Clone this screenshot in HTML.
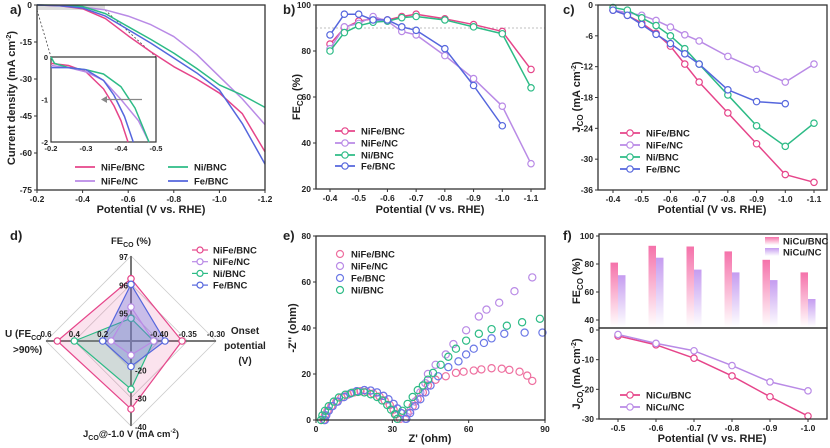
<!DOCTYPE html>
<html><head><meta charset="utf-8"><style>
html,body{margin:0;padding:0;background:#fff;}
svg{display:block;font-family:"Liberation Sans",Arial,sans-serif;}
text{font-weight:bold;fill:#222;}
</style></head><body>
<svg id="fig" width="830" height="448" viewBox="0 0 830 448" xmlns="http://www.w3.org/2000/svg">
<defs>
<linearGradient id="gPink" x1="0" y1="0" x2="0" y2="1"><stop offset="0" stop-color="#f572aa"/><stop offset="1" stop-color="#fff"/></linearGradient>
<linearGradient id="gPurp" x1="0" y1="0" x2="0" y2="1"><stop offset="0" stop-color="#c59cf0"/><stop offset="1" stop-color="#fff"/></linearGradient>
</defs>
</svg>
<script>
// ---------- DATA ----------
const colPink="#e6458a", colPurp="#b98ae6", colGreen="#2dbb86", colBlue="#5566dd";
// panel a (LSV)
const aX=[-0.2,-0.3,-0.4,-0.5,-0.6,-0.7,-0.8,-0.9,-1.0,-1.1,-1.2];
const aNiFeBNC=[0,-0.3,-1.5,-5.5,-12.5,-19,-25,-30,-35.7,-44,-59.5];
const aNiFeNC=[0,-0.2,-0.8,-2,-4.5,-8,-12.8,-20,-29,-38,-48.5];
const aNiBNC=[0,-0.1,-0.6,-3.5,-8.8,-14,-19.5,-25.7,-32.4,-36.5,-41.5];
const aFeBNC=[0,-0.3,-1.2,-4.5,-10,-15.5,-21.5,-27.5,-34.5,-48,-64.5];
const insX1=[-0.2,-0.25,-0.3,-0.35,-0.38,-0.4,-0.42];
const insNiFeBNC=[-0.15,-0.2,-0.35,-0.75,-1.15,-1.5,-2];
const insX2=[-0.2,-0.25,-0.3,-0.35,-0.4,-0.45,-0.48];
const insNiFeNC=[-0.2,-0.25,-0.35,-0.55,-1.0,-1.5,-2];
const insX3=[-0.2,-0.21,-0.25,-0.3,-0.35,-0.4,-0.44,-0.48];
const insNiBNC=[0,-0.15,-0.25,-0.3,-0.4,-0.7,-1.2,-2];
const insX4=[-0.2,-0.25,-0.3,-0.35,-0.38,-0.41,-0.435];
const insFeBNC=[-0.25,-0.25,-0.3,-0.55,-0.9,-1.4,-2];
const aXTicks=[-0.2,-0.4,-0.6,-0.8,-1.0,-1.2];
const aYTicks=[0,-15,-30,-45,-60,-75];
// panel b (FE)
const bX=[-0.4,-0.45,-0.5,-0.55,-0.6,-0.65,-0.7,-0.8,-0.9,-1.0,-1.1];
const bNiFeBNC=[83,90,93,94,93.5,95,96,94,91.5,88.5,72];
const bNiFeNC=[81,90.5,92,95,93,88.5,87,78,68,56,31];
const bNiBNC=[80,88,91,92.5,93,94.5,95,93.5,90.5,87.5,64];
const bFeBNC=[87,96,96,93.5,93.5,90.5,89,81,65,47.5];
const bXTicks=[-0.4,-0.5,-0.6,-0.7,-0.8,-0.9,-1.0,-1.1];
const bYTicks=[20,40,60,80,100];
// panel c (Jco)
const cNiFeBNC=[-1,-2,-3.5,-5.5,-8,-11.5,-15,-21,-27,-33,-34.5];
const cNiFeNC=[-1,-1.5,-2,-3,-4.3,-5.8,-7,-10,-12.5,-15,-11.5];
const cNiBNC=[-0.5,-1,-2.5,-4,-6,-8.5,-11.5,-17.5,-23.5,-27.5,-23];
const cFeBNC=[-1,-2,-3.8,-5.7,-7.5,-9.5,-11.5,-16.5,-18.8,-19.2];
const cYTicks=[0,-6,-12,-18,-24,-30,-36];
// panel d (radar): FE, onset, J, U
const dNames=["NiFe/BNC","NiFe/NC","Ni/BNC","Fe/BNC"];
const dFE=[96.2,95.2,94.8,96.0];
const dOnset=[-0.36,-0.41,-0.41,-0.39];
const dJ=[-34,-15,-27,-19];
const dU=[0.52,0.14,0.4,0.2];
// panel e (EIS)
const eNiFeBNCx=[3,3.5,4.5,6,8,10,12.5,15,17.5,20,22.5,25,27,29,30.5,31.5,33,36,38,40,42,44,47,51,55,58,62,65,69,73,76,80,83,85];
const eNiFeBNCy=[0,2,4,6,8,9.8,11,12,12.5,12.3,11.5,10.2,8.5,6.5,4.5,2.5,0.5,3,6,9,12,15,17.5,19,20.5,21,21.5,22,22.5,22.3,21.8,21,19.3,17];
const eNiFeNCx=[3.5,4,5,6.5,8.5,11,13.5,16,19,21.5,24,26.5,28.5,30.5,32,33.5,35,37,39,41,43,44,47,51,54,59,64,67,72,78,85];
const eNiFeNCy=[0,2,4,6,8,10,11.5,12.5,13,12.8,12,10.5,9,7,5,3,0.5,4,8,12,16,20,24,28.5,33,39,45,48,51,56,62];
const eFeBNCx=[3.5,4,5,6.5,8.5,11,13.5,16,19,21.5,24,26.5,28.5,30.5,32,33.5,35.5,37,39,41,43,45,48,52,56,59,62,66,69,74,82,89];
const eFeBNCy=[0,2,4,6,8,10,11.5,12.5,13,12.8,12,10.5,9,7,5,3,0.5,3,6,9,12,15,19,23,25.5,28.5,31,33.5,35.5,37.5,38,38];
const eNiBNCx=[2,2.5,3.5,5,7,9,11.5,14,16.5,19,21.5,24,26,28,29.5,31,32,34,36,38,40,42,44,46,49,52,55,59,64,69,75,81,88];
const eNiBNCy=[0,2,4,6,8,9.8,11,11.8,12.2,12,11.2,10,8.5,6.5,4.5,2.5,0.5,4,7,10,13,15,17.5,20.5,24,27.5,31,34.5,37.5,39.5,41,42.5,44];
const eXTicks=[0,30,60,90];
const eYTicks=[0,20,40,60,80];
// panel f
const fX=[-0.5,-0.6,-0.7,-0.8,-0.9,-1.0];
const fFEBNC=[81,93,92.5,89,83,74];
const fFENC=[72,84.5,76,74,68.5,55];
const fJBNC=[-2,-5,-9.5,-15.5,-22.5,-29];
const fJNC=[-1.5,-4.5,-7,-12,-17.5,-20.5];
const fYTopTicks=[40,60,80,100];
const fYBotTicks=[0,-10,-20,-30];

// ---------- HELPERS ----------
const NS="http://www.w3.org/2000/svg";
const svg=document.getElementById('fig');
function mk(tag,attrs,parent){const e=document.createElementNS(NS,tag);for(const k in attrs)e.setAttribute(k,attrs[k]);(parent||svg).appendChild(e);return e;}
function lin(d0,d1,r0,r1){return v=>r0+(v-d0)/(d1-d0)*(r1-r0);}
function txt(x,y,html,size,anchor,name,rot){const t=mk('text',{x:x,y:y,'font-size':size||9,'text-anchor':anchor||'middle'});t.innerHTML=html;if(rot)t.setAttribute('transform','rotate(-90 '+x+' '+y+')');


return t;}
function frame(x0,y0,x1,y1,name){const r=mk('rect',{x:x0,y:y0,width:x1-x0,height:y1-y0,fill:'none',stroke:'#333','stroke-width':1.3});

}
function xTicks(ticks,sx,y,fmt,name){ticks.forEach(v=>{const x=sx(v);const l=mk('line',{x1:x,x2:x,y1:y,y2:y+3,stroke:'#333','stroke-width':1});


txt(x,y+12,fmt(v),8.5,'middle',name+'-tick-label');});}
function yTicks(ticks,sy,x,fmt,name){ticks.forEach(v=>{const y=sy(v);const l=mk('line',{x1:x-3,x2:x,y1:y,y2:y,stroke:'#333','stroke-width':1});


txt(x-5,y+3,fmt(v),8.5,'end',name+'-tick-label');});}
function line(xs,ys,sx,sy,color,name,w,dash){const pts=ys.map((v,i)=>sx(xs[i])+','+sy(v)).join(' ');const p=mk('polyline',{points:pts,fill:'none',stroke:color,'stroke-width':w||1.5,'stroke-linejoin':'round'});if(dash)p.setAttribute('stroke-dasharray',dash);


return p;}
function markers(xs,ys,sx,sy,color,name,r,fill){ys.forEach((v,i)=>{const c=mk('circle',{cx:sx(xs[i]),cy:sy(v),r:r||3.2,fill:fill||'#fff',stroke:color,'stroke-width':1.2});

});}
function legLine(x,y,color,label,name,marker){const l=mk('line',{x1:x,x2:x+20,y1:y,y2:y,stroke:color,'stroke-width':1.8});


if(marker){const c=mk('circle',{cx:x+10,cy:y,r:3.2,fill:'#fff',stroke:color,'stroke-width':1.2});

}
txt(x+26,y+3.5,label,9.5,'start',name);}
const f1=v=>v.toFixed(1), f0=v=>String(v);

// ---------- PANEL A ----------
txt(10,14,'a)',13,'start','panel-a-label');
const ax=lin(-0.2,-1.2,37,265), ay=lin(0,-75,5,190);
const sh=mk('rect',{x:37,y:5,width:68,height:5,fill:'#ddd'});


[[37,10,51,57],[105,10,156,57]].forEach(d=>{const l=mk('line',{x1:d[0],y1:d[1],x2:d[2],y2:d[3],stroke:'#444','stroke-width':0.8,'stroke-dasharray':'2,2'});

});
line(aX,aNiFeBNC,ax,ay,colPink,'a-nifebnc-curve');
line(aX,aNiFeNC,ax,ay,colPurp,'a-nifenc-curve');
line(aX,aNiBNC,ax,ay,colGreen,'a-nibnc-curve');
line(aX,aFeBNC,ax,ay,colBlue,'a-febnc-curve');
frame(37,5,265,190,'panel-a-frame');
xTicks(aXTicks,ax,190,f1,'a-x');
yTicks(aYTicks,ay,37,f0,'a-y');
txt(151,213,'Potential (V vs. RHE)',11,'middle','a-x-title');
txt(15,98,'Current density (mA cm<tspan dy="-4" font-size="7">-2</tspan><tspan dy="4">)</tspan>',11,'middle','a-y-title',true);
// inset
const ib=mk('rect',{x:51,y:57,width:105,height:85,fill:'#fff',stroke:'#333','stroke-width':1.2});


const ix=lin(-0.2,-0.5,51,156), iy=lin(0,-2,57,142);
line(insX1,insNiFeBNC,ix,iy,colPink,'inset-nifebnc');
line(insX2,insNiFeNC,ix,iy,colPurp,'inset-nifenc');
line(insX3,insNiBNC,ix,iy,colGreen,'inset-nibnc');
line(insX4,insFeBNC,ix,iy,colBlue,'inset-febnc');
const ar=mk('line',{x1:ix(-0.46),x2:ix(-0.36),y1:iy(-1),y2:iy(-1),stroke:'#888','stroke-width':1.3});


const ah=mk('polygon',{points:(ix(-0.36)-6)+','+iy(-1)+' '+ix(-0.36)+','+(iy(-1)-3.5)+' '+ix(-0.36)+','+(iy(-1)+3.5),fill:'#888'});


[-0.2,-0.3,-0.4,-0.5].forEach(v=>txt(ix(v),151,f1(v),7.5,'middle','inset-x-tick-label'));
[0,-1,-2].forEach(v=>txt(48,iy(v)+3,f0(v),7.5,'end','inset-y-tick-label'));
legLine(75,167,colPink,'NiFe/BNC','a-legend-nifebnc');
legLine(75,181,colPurp,'NiFe/NC','a-legend-nifenc');
legLine(168,167,colGreen,'Ni/BNC','a-legend-nibnc');
legLine(168,181,colBlue,'Fe/BNC','a-legend-febnc');

// ---------- PANEL B ----------
txt(283,14,'b)',13,'start','panel-b-label');
const bx=lin(-0.4,-1.1,330,531), by=lin(100,20,5,189);
const dl=mk('line',{x1:316,x2:545,y1:by(90),y2:by(90),stroke:'#aaa','stroke-width':0.8,'stroke-dasharray':'2,2'});


[[bNiFeBNC,colPink,'nifebnc'],[bNiFeNC,colPurp,'nifenc'],[bNiBNC,colGreen,'nibnc'],[bFeBNC,colBlue,'febnc']].forEach(s=>{line(bX,s[0],bx,by,s[1],'b-'+s[2]+'-line');markers(bX,s[0],bx,by,s[1],'b-'+s[2]+'-point');});
frame(316,5,545,189,'panel-b-frame');
xTicks(bXTicks,bx,189,f1,'b-x');
yTicks(bYTicks,by,316,f0,'b-y');
txt(430,213,'Potential (V vs. RHE)',11,'middle','b-x-title');
txt(300,97,'FE<tspan dy="3" font-size="8">CO</tspan><tspan dy="-3"> (%)</tspan>',11,'middle','b-y-title',true);
legLine(335,131,colPink,'NiFe/BNC','b-legend-nifebnc',1);
legLine(335,143,colPurp,'NiFe/NC','b-legend-nifenc',1);
legLine(335,155,colGreen,'Ni/BNC','b-legend-nibnc',1);
legLine(335,166,colBlue,'Fe/BNC','b-legend-febnc',1);

// ---------- PANEL C ----------
txt(563,14,'c)',13,'start','panel-c-label');
const cx=lin(-0.4,-1.1,613,814), cy=lin(0,-36,5,190);
[[cNiFeBNC,colPink,'nifebnc'],[cNiFeNC,colPurp,'nifenc'],[cNiBNC,colGreen,'nibnc'],[cFeBNC,colBlue,'febnc']].forEach(s=>{line(bX,s[0],cx,cy,s[1],'c-'+s[2]+'-line');markers(bX,s[0],cx,cy,s[1],'c-'+s[2]+'-point');});
frame(598,5,827,190,'panel-c-frame');
xTicks(bXTicks,cx,190,f1,'c-x');
yTicks(cYTicks,cy,598,f0,'c-y');
txt(712,213,'Potential (V vs. RHE)',11,'middle','c-x-title');
txt(580,97,'J<tspan dy="3" font-size="8">CO</tspan><tspan dy="-3"> (mA cm</tspan><tspan dy="-4" font-size="7">-2</tspan><tspan dy="4">)</tspan>',11,'middle','c-y-title',true);
legLine(620,133,colPink,'NiFe/BNC','c-legend-nifebnc',1);
legLine(620,145,colPurp,'NiFe/NC','c-legend-nifenc',1);
legLine(620,157,colGreen,'Ni/BNC','c-legend-nibnc',1);
legLine(620,169,colBlue,'Fe/BNC','c-legend-febnc',1);

// ---------- PANEL D (radar) ----------
txt(10,240,'d)',13,'start','panel-d-label');
const CX=131, CY=341, R=85;
const rFE=lin(94,97,0,R), rOn=lin(-0.45,-0.30,0,R), rJ=lin(-10,-40,0,R), rU=lin(0,0.6,0,R);
[R/3,2*R/3,R].forEach(r=>{const g=mk('polygon',{points:`${CX},${CY-r} ${CX+r},${CY} ${CX},${CY+r} ${CX-r},${CY}`,fill:'none',stroke:'#ccc','stroke-width':0.8});

});
[[0,-1],[1,0],[0,1],[-1,0]].forEach(d=>{const l=mk('line',{x1:CX,y1:CY,x2:CX+d[0]*R,y2:CY+d[1]*R,stroke:'#777','stroke-width':2});

});
const dCols=[colPink,colPurp,colGreen,colBlue];
const dOp=[0.15,0.15,0.2,0.3];
[0,2,3,1].forEach(i=>{const pts=[[CX,CY-rFE(dFE[i])],[CX+rOn(dOnset[i]),CY],[CX,CY+rJ(dJ[i])],[CX-rU(dU[i]),CY]];
const p=mk('polygon',{points:pts.map(q=>q.join(',')).join(' '),fill:dCols[i],'fill-opacity':dOp[i],stroke:dCols[i],'stroke-width':1.2});


pts.forEach(q=>{const c=mk('circle',{cx:q[0],cy:q[1],r:3.2,fill:'#fff',stroke:dCols[i],'stroke-width':1.2});

});});
[95,96,97].forEach(v=>txt(CX-3,CY-rFE(v)+4,f0(v),8,'end','radar-fe-tick'));
[-0.40,-0.35,-0.30].forEach(v=>txt(CX+rOn(v),CY-4,v.toFixed(2),8,'middle','radar-onset-tick'));
[0.2,0.4,0.6].forEach(v=>txt(CX-rU(v),CY-4,f1(v),8,'middle','radar-u-tick'));
[-20,-30,-40].forEach(v=>txt(CX+4,CY+rJ(v)+4,f0(v),8,'start','radar-j-tick'));
txt(CX,244,'FE<tspan dy="3" font-size="7">CO</tspan><tspan dy="-3"> (%)</tspan>',9.5,'middle','radar-fe-title');
txt(245,334,'Onset',10,'middle','radar-onset-title');
txt(245,349,'potential',10,'middle','radar-onset-title');
txt(245,364,'(V)',10,'middle','radar-onset-title');
txt(5,337,'U (FE<tspan dy="3" font-size="7">CO</tspan>',10,'start','radar-u-title');
txt(13,353,'&gt;90%)',10,'start','radar-u-title');
txt(CX,437,'J<tspan dy="3" font-size="7">CO</tspan><tspan dy="-3">@-1.0 V (mA cm</tspan><tspan dy="-4" font-size="6">-2</tspan><tspan dy="4">)</tspan>',9.5,'middle','radar-j-title');
dNames.forEach((n,i)=>{const y=250+i*11.7;const l=mk('line',{x1:192,x2:208,y1:y,y2:y,stroke:dCols[i],'stroke-width':1.2});


const c=mk('circle',{cx:200,cy:y,r:3,fill:'#fff',stroke:dCols[i],'stroke-width':1.2});


txt(213,y+3.5,n,9.5,'start','d-legend-'+i);});

// ---------- PANEL E (EIS) ----------
txt(283,240,'e)',13,'start','panel-e-label');
const ex=lin(0,90,316,545), ey=lin(0,80,420,236);
markers(eNiFeBNCx,eNiFeBNCy,ex,ey,'#ee6f9f','e-nifebnc-point',3.6,'none');
markers(eNiFeNCx,eNiFeNCy,ex,ey,colPurp,'e-nifenc-point',3.6,'none');
markers(eFeBNCx,eFeBNCy,ex,ey,'#6b78e6','e-febnc-point',3.6,'none');
markers(eNiBNCx,eNiBNCy,ex,ey,colGreen,'e-nibnc-point',3.6,'none');
frame(316,236,545,420,'panel-e-frame');
xTicks(eXTicks,ex,420,f0,'e-x');
yTicks(eYTicks,ey,316,f0,'e-y');
txt(430,442,"Z' (ohm)",11,'middle','e-x-title');
txt(296,328,"-Z'' (ohm)",11,'middle','e-y-title',true);
[['NiFe/BNC','#ee6f9f'],['NiFe/NC',colPurp],['Fe/BNC','#6b78e6'],['Ni/BNC',colGreen]].forEach((d,i)=>{const y=254+i*12;const c=mk('circle',{cx:340,cy:y,r:3.5,fill:'none',stroke:d[1],'stroke-width':1.2});


txt(351,y+3.5,d[0],9.5,'start','e-legend-'+i);});

// ---------- PANEL F ----------
txt(563,240,'f)',13,'start','panel-f-label');
const fx=lin(-0.5,-1.0,618,808), fyT=lin(40,100,320,236), fyB=lin(0,-30,330,419);
const barBottom=327;
fX.forEach((v,i)=>{const x=fx(v);
const b1=mk('rect',{x:x-7.5,y:fyT(fFEBNC[i]),width:7.5,height:barBottom-fyT(fFEBNC[i]),fill:'url(#gPink)'});


const b2=mk('rect',{x:x,y:fyT(fFENC[i]),width:7.5,height:barBottom-fyT(fFENC[i]),fill:'url(#gPurp)'});

});
frame(599,234,827,328,'panel-f-top-frame');
yTicks(fYTopTicks,fyT,599,f0,'f-top-y');
line(fX,fJBNC,fx,fyB,colPink,'f-nicubnc-line');markers(fX,fJBNC,fx,fyB,colPink,'f-nicubnc-point');
line(fX,fJNC,fx,fyB,colPurp,'f-nicunc-line');markers(fX,fJNC,fx,fyB,colPurp,'f-nicunc-point');
frame(599,328,827,419,'panel-f-bottom-frame');
yTicks(fYBotTicks,fyB,599,f0,'f-bot-y');
xTicks(fX,fx,419,f1,'f-x');
txt(712,442,'Potential (V vs. RHE)',11,'middle','f-x-title');
txt(580,281,'FE<tspan dy="3" font-size="8">CO</tspan><tspan dy="-3"> (%)</tspan>',11,'middle','f-top-y-title',true);
txt(580,374,'J<tspan dy="3" font-size="8">CO</tspan><tspan dy="-3"> (mA cm</tspan><tspan dy="-4" font-size="7">-2</tspan><tspan dy="4">)</tspan>',11,'middle','f-bot-y-title',true);
[['NiCu/BNC','url(#gPink)'],['NiCu/NC','url(#gPurp)']].forEach((d,i)=>{const y=237+i*11;const r=mk('rect',{x:765,y:y,width:14,height:8,fill:d[1]});


txt(783,y+7.5,d[0],9.5,'start','f-bar-legend-'+i);});
legLine(620,395,colPink,'NiCu/BNC','f-legend-nicubnc',1);
legLine(620,407,colPurp,'NiCu/NC','f-legend-nicunc',1);
</script>
</body></html>
